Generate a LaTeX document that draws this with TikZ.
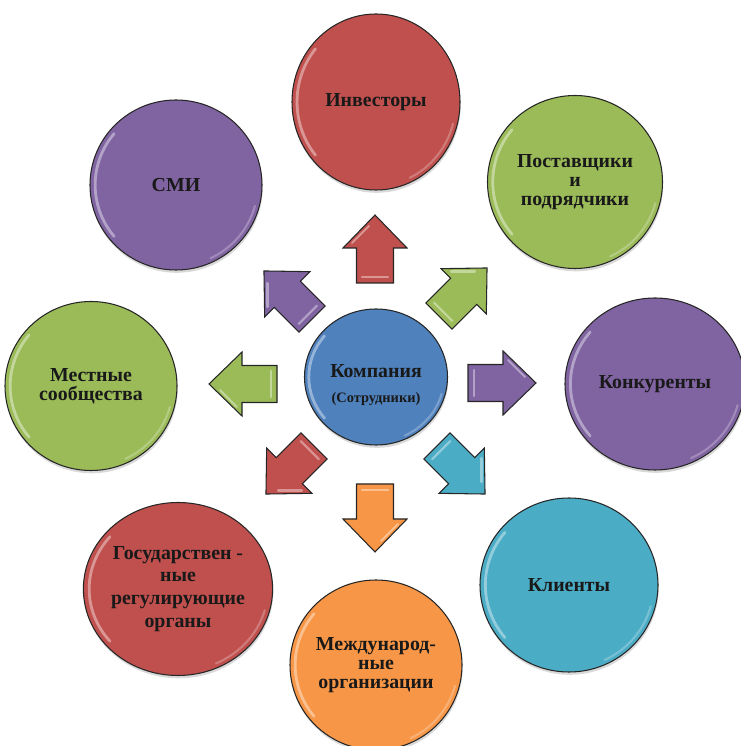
\documentclass[tikz,border=0pt]{standalone}
\usepackage{fontspec}
\setmainfont{Liberation Serif}
\usetikzlibrary{shapes.geometric, shadows}
\definecolor{offRed}{HTML}{C0504D}
\definecolor{offGreen}{HTML}{9BBB59}
\definecolor{offViolet}{HTML}{8064A2}
\definecolor{offBlue}{HTML}{4F81BD}
\definecolor{offCyan}{HTML}{4BACC6}
\definecolor{offOrange}{HTML}{F79646}

\begin{document}
\begin{tikzpicture}[
	stake/.style n args={3}{shape=ellipse, draw=black!85, line width=0.6pt, fill=#1,
		minimum width={2*#2cm}, minimum height={2*#3cm}, inner sep=0pt, align=center,
		font=\bfseries\fontsize{11.3}{11}\selectfont, text=black!90,
		drop shadow={opacity=0.3, shadow xshift=0.4pt, shadow yshift=-1.6pt},
		path picture={
			\draw[white, opacity=0.4, line width=1.6pt, line cap=round]
				([shift={(140:0.94*#2cm and 0.94*#3cm)}]path picture bounding box.center)
				arc[start angle=140, end angle=220, x radius=0.94*#2cm, y radius=0.94*#3cm];
			\draw[white, opacity=0.25, line width=1.2pt, line cap=round]
				([shift={(295:0.95*#2cm and 0.95*#3cm)}]path picture bounding box.center)
				arc[start angle=295, end angle=345, x radius=0.95*#2cm, y radius=0.95*#3cm];
		}},
	blockarrow/.pic={
		\draw[pic actions, draw=black!85, line width=0.6pt, line join=miter]
			(-0.68, 0.37) -- (0.02, 0.37) -- (0.02, 0.64) -- (0.68, 0)
			-- (0.02, -0.64) -- (0.02, -0.37) -- (-0.68, -0.37) -- cycle;
		\draw[white, opacity=0.4, line width=1.2pt, line cap=round]
			(-0.56, 0.26) -- (-0.56, -0.26);
		\draw[white, opacity=0.4, line width=1.2pt, line cap=round]
			(0.12, 0.46) -- (0.46, 0.12);
	}
]
	\clip (0, 0) rectangle (14.82, 14.92);
	% Stakeholders round the company:
	\node[stake={offBlue}{1.43}{1.36}] (comp) at (7.52, 7.38) {\rule{0pt}{16.5pt}Компания\\[3pt]{\fontsize{8.2}{10}\selectfont (Сотрудники)}};
	\node[stake={offRed}{1.68}{1.76}] (inv) at (7.52, 12.88) {Инвесторы};
	\node[stake={offGreen}{1.75}{1.73}] (sup) at (11.50, 11.28) {Поставщики\\и\\подрядчики};
	\node[stake={offViolet}{1.80}{1.72}] (conc) at (13.10, 7.24) {Конкуренты};
	\node[stake={offCyan}{1.78}{1.74}] (cli) at (11.38, 3.22) {Клиенты};
	\node[stake={offOrange}{1.72}{1.70}] (intl) at (7.52, 1.62) {Международ-\\ные\\организации};
	\node[stake={offRed}{1.89}{1.73}, font=\bfseries\fontsize{11.3}{13}\selectfont] (gov) at (3.56, 3.14) {Государствен -\\ные\\регулирующие\\органы};
	\node[stake={offGreen}{1.72}{1.69}] (loc) at (1.82, 7.20) {Местные\\сообщества};
	\node[stake={offViolet}{1.72}{1.70}] (smi) at (3.52, 11.22) {СМИ};
	% Block arrows:
	\pic[fill=offRed, rotate=90] (a-inv) at (7.50, 9.94) {blockarrow};
	\pic[fill=offGreen, rotate=45] (a-sup) at (9.26, 9.08) {blockarrow};
	\pic[fill=offViolet, rotate=0] (a-conc) at (10.04, 7.26) {blockarrow};
	\pic[fill=offCyan, rotate=-45] (a-cli) at (9.22, 5.52) {blockarrow};
	\pic[fill=offOrange, rotate=-90] (a-intl) at (7.50, 4.56) {blockarrow};
	\pic[fill=offRed, rotate=-135] (a-gov) at (5.80, 5.52) {blockarrow};
	\pic[fill=offGreen, rotate=180] (a-loc) at (4.86, 7.24) {blockarrow};
	\pic[fill=offViolet, rotate=135] (a-smi) at (5.76, 9.02) {blockarrow};
\end{tikzpicture}
\end{document}
